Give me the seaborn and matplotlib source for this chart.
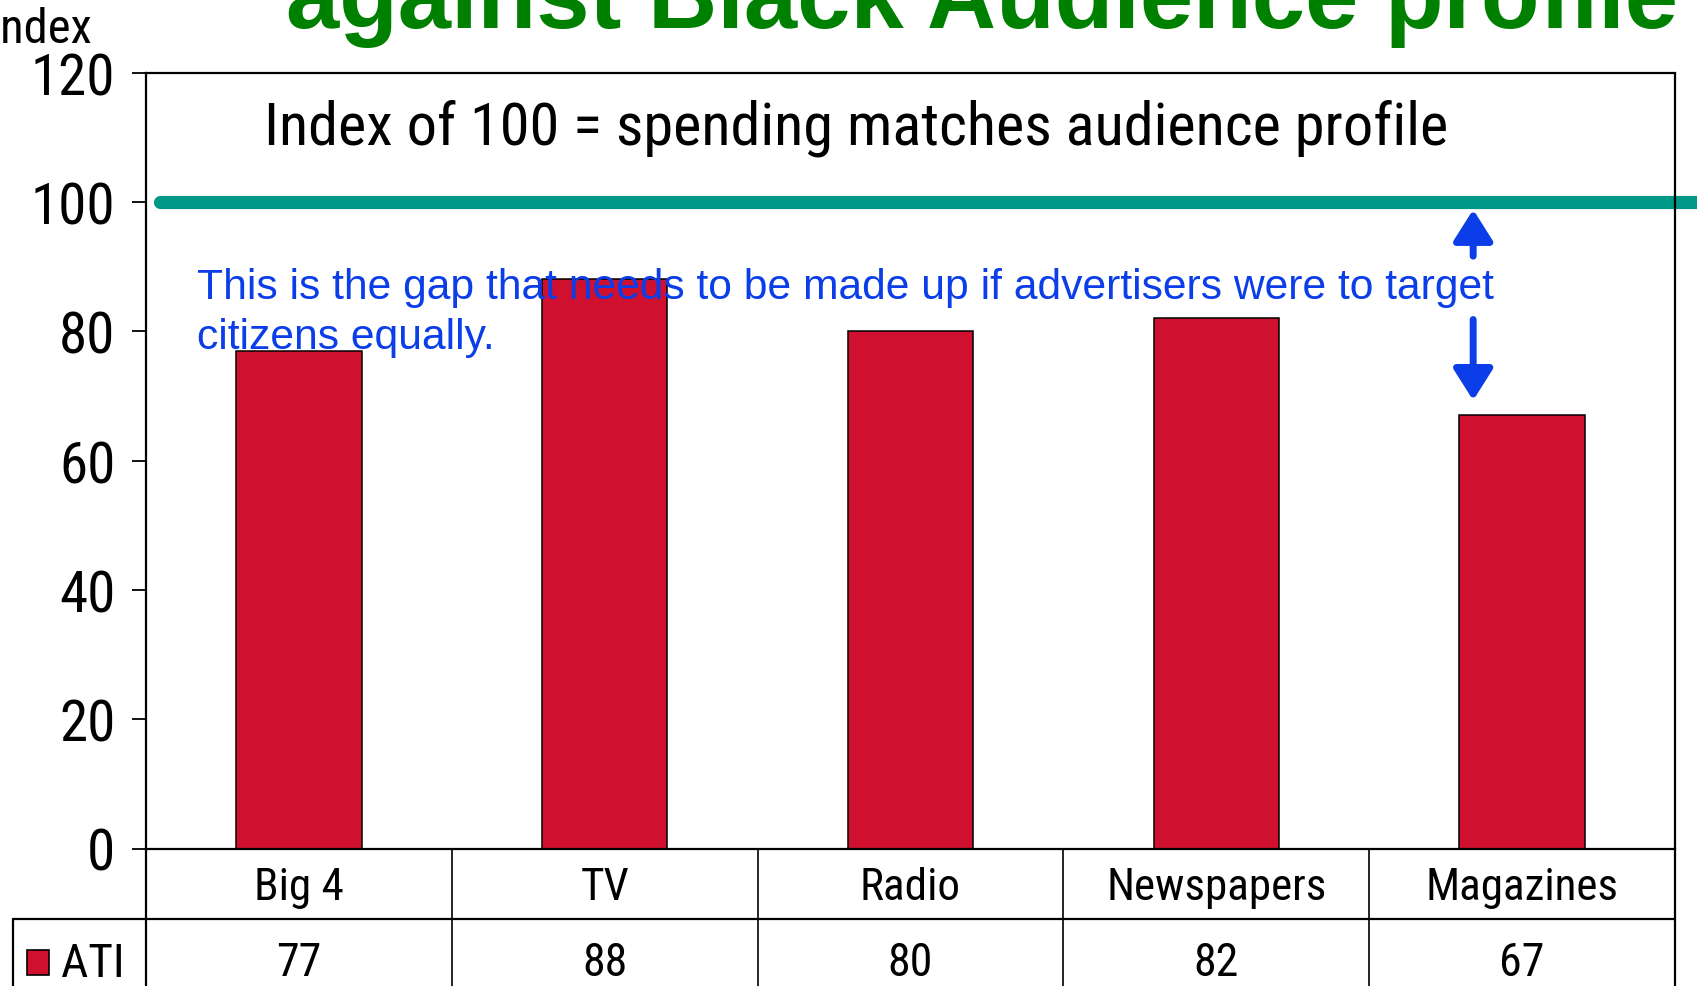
import matplotlib
matplotlib.use("Agg")
import matplotlib.pyplot as plt
import matplotlib.transforms as mtransforms
from matplotlib.patches import Rectangle
from matplotlib import font_manager
import seaborn as sns
import pandas as pd

# ---- data ----
categories = ["Big 4", "TV", "Radio", "Newspapers", "Magazines"]
ati_index = [77, 88, 80, 82, 67]
series_name = "ATI"
parity_index = 100
y_ticks = [0, 20, 40, 60, 80, 100, 120]

title_text = "against Black Audience profile"
parity_note = "Index of 100 = spending matches audience profile"
gap_note = ("This is the gap that needs to be made up if advertisers were to target\n"
            "citizens equally.")
y_label = "Index"

# ---- style ----
RED = "#D0102F"
TEAL = "#009886"
BLUE = "#0B3EE8"
GREEN = "#008000"

sns.set_theme(style="white")

# condensed sans for the axis and table text, plain sans for the notes
installed = {f.name for f in font_manager.fontManager.ttflist}
narrow = [n for n in ("Liberation Sans Narrow", "Roboto Condensed",
                      "Open Sans Condensed") if n in installed]
narrow.append("DejaVu Sans")
regular = ["Liberation Sans", "DejaVu Sans"]
plt.rcParams["font.family"] = narrow
plt.rcParams["font.stretch"] = "condensed"

W, H = 1697, 987
fig = plt.figure(figsize=(W / 100, H / 100), dpi=100)
fig.patch.set_facecolor("white")

ax_left, ax_right, ax_top, ax_bottom = 146, 1675, 73.5, 849.5
ax = fig.add_axes([ax_left / W, 1 - ax_bottom / H,
                   (ax_right - ax_left) / W, (ax_bottom - ax_top) / H])

df = pd.DataFrame({"medium": categories, "index": ati_index})
sns.barplot(data=df, x="medium", y="index", order=categories, color=RED,
            saturation=1, width=0.41, edgecolor="black", linewidth=1.1,
            ax=ax, zorder=2)

ax.set_xlim(-0.5, len(categories) - 0.5)
ax.set_ylim(0, 120)
ax.set_yticks(y_ticks)
ax.set_yticklabels([str(v) for v in y_ticks], fontsize=41)
ax.set_xticks([])
ax.set_xlabel("")
ax.set_ylabel("")
ax.tick_params(axis="y", direction="out", length=10, width=1.3,
               color="black", left=True, pad=12, labelcolor="black")
for s in ax.spines.values():
    s.set_visible(True)
    s.set_color("black")
    s.set_linewidth(1.6)
ax.spines["right"].set_visible(False)

# parity line at index 100
ax.plot([-0.455, len(categories) + 1], [parity_index, parity_index],
        color=TEAL, lw=9.5, solid_capstyle="round", clip_on=False, zorder=3)

# notes
ax.text(1.822, 111.5, parity_note, fontsize=43.5,
        ha="center", va="center", color="black", zorder=5)
ax.text(-0.333, 89.9, gap_note, fontsize=30.7, family=regular, color=BLUE,
        ha="left", va="top", linespacing=1.32, zorder=5)

# gap arrows
arrow_x = 3.84
arrow_kw = dict(arrowstyle="-|>,head_length=1.9,head_width=1.2",
                color=BLUE, lw=5, mutation_scale=10, shrinkA=0, shrinkB=0,
                capstyle="round", joinstyle="round")
ax.annotate("", xy=(arrow_x, 98.8), xytext=(arrow_x, 91.6),
            arrowprops=arrow_kw, zorder=5)
ax.annotate("", xy=(arrow_x, 69.3), xytext=(arrow_x, 81.8),
            arrowprops=arrow_kw, zorder=5)

# figure-pixel helpers for the table grid
fig_line = dict(color="black", lw=1.6, transform=fig.transFigure, clip_on=False)
def fx(px):
    return px / W
def fy(py):
    return 1 - py / H

# right border runs through the data table
fig.add_artist(plt.Line2D([fx(ax_right), fx(ax_right)], [fy(ax_top), fy(H + 5)], **fig_line))

# ---- data table under the axis ----
row1_bottom = 920
table_left = 13
fig.add_artist(plt.Line2D([fx(ax_left), fx(ax_left)], [fy(ax_bottom), fy(H + 5)], **fig_line))
fig.add_artist(plt.Line2D([fx(table_left), fx(ax_right)], [fy(row1_bottom), fy(row1_bottom)], **fig_line))
fig.add_artist(plt.Line2D([fx(table_left), fx(table_left)], [fy(row1_bottom), fy(H + 5)], **fig_line))

xform = mtransforms.blended_transform_factory(ax.transData, fig.transFigure)
for i in range(1, len(categories)):
    ax.plot([i - 0.5, i - 0.5], [fy(ax_bottom), fy(H + 5)], color="black",
            lw=1.2, transform=xform, clip_on=False)

for i, (cat, val) in enumerate(zip(categories, ati_index)):
    ax.text(i, fy((ax_bottom + row1_bottom) / 2 + 3), cat, fontsize=32.5,
            ha="center", va="center", transform=xform, color="black")
    ax.text(i, fy(row1_bottom + 43), f"{val}", fontsize=33,
            ha="center", va="center", transform=xform, color="black")

fig.add_artist(Rectangle((fx(27), fy(976)), fx(22), 25 / H, facecolor=RED,
                         edgecolor="black", lw=1.2, transform=fig.transFigure))
fig.text(fx(61), fy(964), series_name, fontsize=34, ha="left", va="center",
         color="black")

# ---- header texts ----
fig.text(fx(92), fy(43), y_label, fontsize=35, ha="right", va="baseline",
         color="black")
fig.text(fx(286), fy(28), title_text, fontsize=69, family=regular,
         fontweight="bold", ha="left", va="baseline", color=GREEN)

fig.savefig("out.png", dpi=100, facecolor="white")
